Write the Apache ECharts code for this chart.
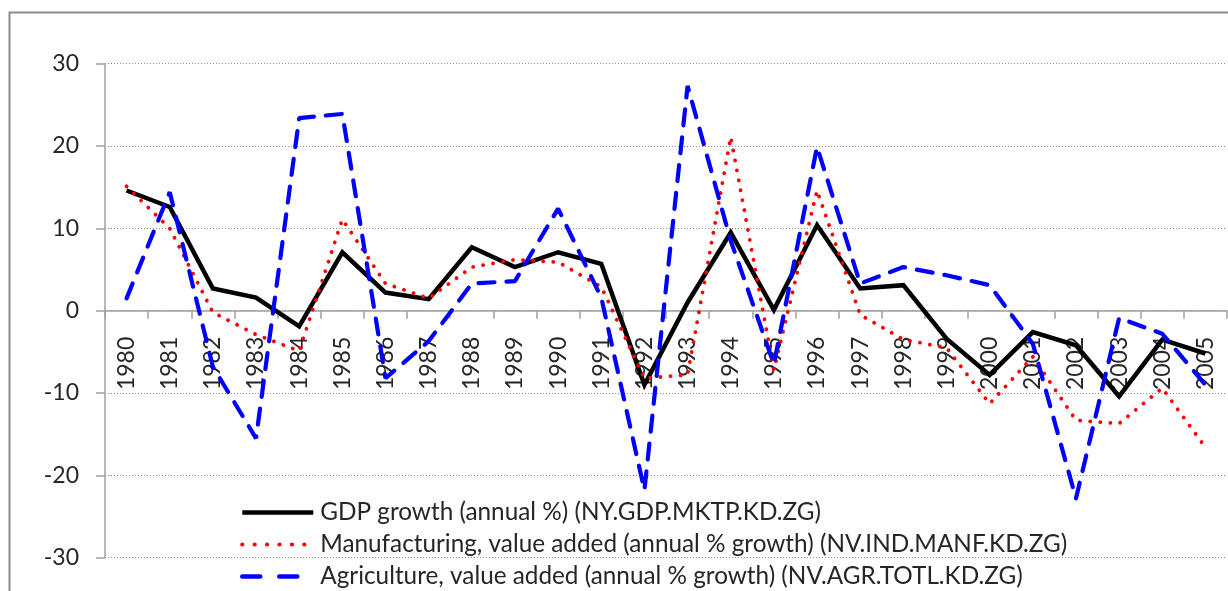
<!DOCTYPE html>
<html>
<head>
<meta charset="utf-8">
<script src="https://cdn.jsdelivr.net/npm/echarts@6/dist/echarts.min.js"></script>
<style>
html,body{margin:0;padding:0;background:#fff;}
#chart{width:1228px;height:591px;}
</style>
</head>
<body>
<div id="chart"></div>
<script>
var years = ['1980','1981','1982','1983','1984','1985','1986','1987','1988','1989','1990','1991','1992','1993','1994','1995','1996','1997','1998','1999','2000','2001','2002','2003','2004','2005'];
var gdpGrowth = [14.6, 12.6, 2.7, 1.6, -1.9, 7.1, 2.2, 1.4, 7.7, 5.3, 7.1, 5.7, -9.0, 1.0, 9.5, 0.1, 10.4, 2.7, 3.1, -3.4, -7.8, -2.6, -4.2, -10.4, -3.5, -5.2];
var manufGrowth = [15.1, 10.0, -0.2, -2.9, -4.9, 11.1, 3.3, 1.5, 5.3, 6.2, 5.9, 2.9, -8.2, -7.8, 21.1, -7.2, 14.6, -0.5, -3.5, -4.5, -11.3, -5.6, -13.3, -13.7, -9.4, -16.6];
var agriGrowth = [1.5, 14.4, -6.8, -15.5, 23.4, 23.9, -8.2, -3.7, 3.3, 3.6, 12.4, 1.6, -21.8, 27.3, 8.5, -6.5, 19.9, 3.3, 5.3, 4.3, 3.1, -4.0, -22.8, -0.9, -2.8, -9.0];
var seriesNames = [
  'GDP growth (annual %) (NY.GDP.MKTP.KD.ZG)',
  'Manufacturing, value added (annual % growth) (NV.IND.MANF.KD.ZG)',
  'Agriculture, value added (annual % growth) (NV.AGR.TOTL.KD.ZG)'
];
var yTicks = {min: -30, max: 30, interval: 10};

var font = 'Lato, "Open Sans", sans-serif';
var chart = echarts.init(document.getElementById('chart'), null, {renderer: 'canvas'});
chart.setOption({
  animation: false,
  backgroundColor: '#ffffff',
  graphic: [{
    type: 'rect',
    shape: {x: 9.5, y: 12.5, width: 1260, height: 620},
    style: {fill: 'none', stroke: '#8c8c8c', lineWidth: 2},
    silent: true,
    z: 0
  }],
  grid: {left: 105, right: 1, top: 63.7, bottom: 33.3, containLabel: false, outerBoundsMode: 'none'},
  legend: {
    orient: 'vertical',
    left: 240,
    top: 500.5,
    width: 900,
    height: 120,
    padding: 0,
    itemWidth: 71,
    itemHeight: 24,
    itemGap: 8,
    itemStyle: {opacity: 0},
    lineStyle: {width: 4.5},
    textStyle: {fontFamily: font, fontSize: 24.3, color: '#262626', padding: [0,0,0,2], lineHeight: 24},
    data: [
      {name: seriesNames[0]},
      {name: seriesNames[1], lineStyle: {width: 4.2, type: [0.1, 12.3], cap: 'round'}},
      {name: seriesNames[2], lineStyle: {width: 4.5, type: [18, 19], cap: 'round'}}
    ]
  },
  xAxis: {
    type: 'category',
    data: years,
    boundaryGap: true,
    axisLine: {onZero: true, lineStyle: {color: '#a0a0a0', width: 1.5}},
    axisTick: {show: true, length: 8, alignWithLabel: false, interval: 0, lineStyle: {color: '#a0a0a0', width: 1.5}},
    axisLabel: {rotate: 90, interval: 0, margin: -221, fontFamily: font, fontSize: 23, color: '#262626'},
    splitLine: {show: false}
  },
  yAxis: {
    type: 'value',
    min: yTicks.min, max: yTicks.max, interval: yTicks.interval,
    axisLine: {show: true, lineStyle: {color: '#a0a0a0', width: 1.5}},
    axisTick: {show: true, length: 9, lineStyle: {color: '#a0a0a0', width: 1.5}},
    axisLabel: {margin: 26, fontFamily: font, fontSize: 23, color: '#262626'},
    splitLine: {show: true, lineStyle: {color: '#8a8a8a', width: 1, type: [1, 2]}}
  },
  series: [
    {
      name: seriesNames[0], type: 'line', data: gdpGrowth, symbol: 'none',
      lineStyle: {color: '#000000', width: 4.5, join: 'miter'},
      itemStyle: {color: '#000000'}, z: 2
    },
    {
      name: seriesNames[1], type: 'line', data: manufGrowth, symbol: 'none',
      lineStyle: {color: '#ff0000', width: 3.8, type: [0.1, 10], cap: 'round'},
      itemStyle: {color: '#ff0000'}, z: 3
    },
    {
      name: seriesNames[2], type: 'line', data: agriGrowth, symbol: 'none',
      lineStyle: {color: '#0000ff', width: 4.2, type: [16, 12], cap: 'round'},
      itemStyle: {color: '#0000ff'}, z: 4
    }
  ]
});
</script>
</body>
</html>
